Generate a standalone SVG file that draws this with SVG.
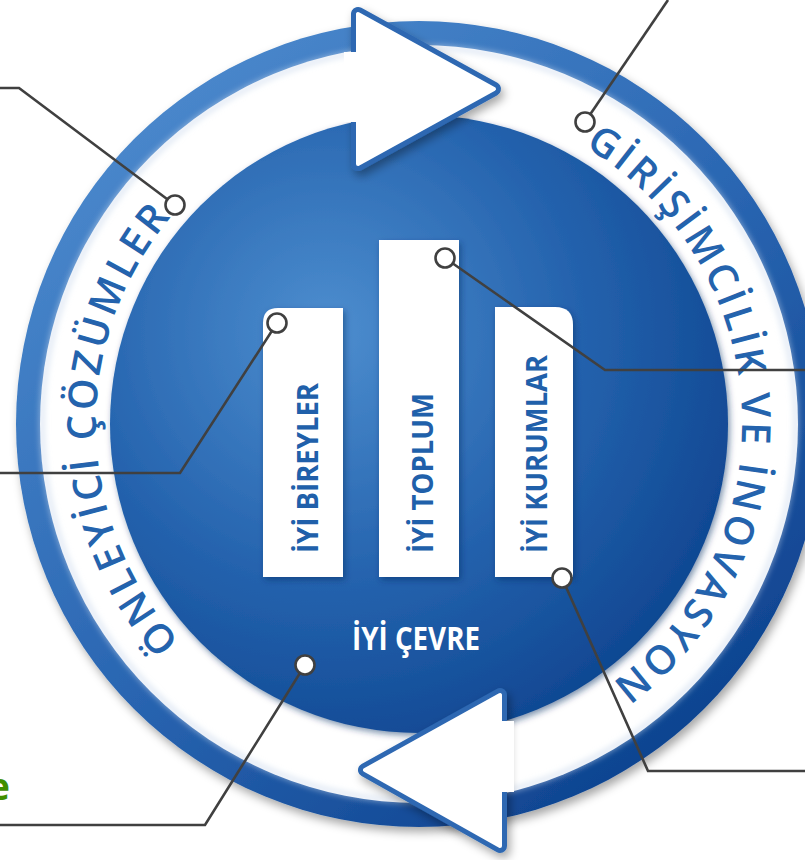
<svg xmlns="http://www.w3.org/2000/svg" width="805" height="860" viewBox="0 0 805 860">
<defs>
<linearGradient id="gOuter" x1="0.15" y1="0.1" x2="0.85" y2="0.95">
<stop offset="0" stop-color="#4a88cc"/>
<stop offset="0.5" stop-color="#2a66b2"/>
<stop offset="1" stop-color="#0b3f8c"/>
</linearGradient>
<radialGradient id="gInner" cx="0.35" cy="0.35" r="0.75">
<stop offset="0" stop-color="#4d8ecf"/>
<stop offset="0.55" stop-color="#2462ad"/>
<stop offset="1" stop-color="#0d448f"/>
</radialGradient>
<filter id="shadow" x="-10%" y="-10%" width="130%" height="130%">
<feDropShadow dx="3" dy="5" stdDeviation="5" flood-color="#000" flood-opacity="0.35"/>
</filter>
<filter id="soft" x="-20%" y="-20%" width="140%" height="140%">
<feDropShadow dx="2" dy="3" stdDeviation="3" flood-color="#05285e" flood-opacity="0.5"/>
</filter>
<filter id="glow" x="-10%" y="-10%" width="120%" height="120%">
<feGaussianBlur stdDeviation="3"/>
</filter>
<path id="ring" d="M 419 747 A 323 323 0 1 1 419 101 A 323 323 0 1 1 419 747"/>
<style>
.ringtxt{font-family:"Open Sans","Liberation Sans",sans-serif;font-weight:600;font-size:40px;letter-spacing:3.5px;fill:#2463ad;}
.pillar{fill:#ffffff;filter:url(#soft);}
.ptxt{font-family:"Open Sans","Liberation Sans",sans-serif;font-weight:700;font-size:29px;fill:#2060aa;}
.ctr{font-family:"Open Sans","Liberation Sans",sans-serif;font-weight:700;font-size:32px;fill:#ffffff;}
.conn{fill:none;stroke:#404040;stroke-width:2.6;}
.dot{fill:#ffffff;stroke:#404040;stroke-width:2.6;}
.arrowOut{fill:#2d68b2;stroke:#2d68b2;stroke-width:14;stroke-linejoin:round;}
.arrowIn{fill:#ffffff;stroke:#ffffff;stroke-width:4;stroke-linejoin:round;}
</style>
</defs>
<rect width="805" height="860" fill="#ffffff"/>

<g id="wheel">
<circle cx="419" cy="424" r="403" fill="url(#gOuter)" filter="url(#shadow)"/>
<circle cx="419" cy="424" r="379" fill="#ffffff"/>
<circle cx="419" cy="424" r="377" fill="none" stroke="#c9d8ec" stroke-width="3" filter="url(#glow)"/>
<circle cx="419" cy="424" r="309" fill="url(#gInner)" filter="url(#soft)"/>
</g>

<g id="arrow-top">
<g filter="url(#shadow)">
<polygon class="arrowOut" points="358,14 358,164 494,89"/>
<polygon class="arrowIn" points="358,14 358,164 494,89"/>
</g>
<rect x="344" y="52" width="18" height="70" fill="#ffffff"/>
</g>
<g id="arrow-bottom">
<g filter="url(#shadow)">
<polygon class="arrowOut" points="500,695 500,846 365,770"/>
<polygon class="arrowIn" points="500,695 500,846 365,770"/>
</g>
<rect x="496" y="721" width="18" height="71" fill="#ffffff"/>
</g>

<g id="ring-left">
<text class="ringtxt"><textPath href="#ring" startOffset="502" text-anchor="middle">ÖNLEYİCİ ÇÖZÜMLER</textPath></text>
</g>
<g id="ring-right">
<text class="ringtxt"><textPath href="#ring" startOffset="1507" text-anchor="middle">GİRİŞİMCİLİK VE İNOVASYON</textPath></text>
</g>

<g id="pillar-bireyler">
<path class="pillar" d="M 278 308 H 343 V 577 H 263 V 323 Q 263 308 278 308 Z"/>
<text class="ptxt" transform="translate(318,553) rotate(-90)" textLength="170" lengthAdjust="spacingAndGlyphs">İYİ BİREYLER</text>
</g>
<g id="pillar-toplum">
<rect class="pillar" x="379" y="240" width="80" height="337"/>
<text class="ptxt" transform="translate(433,553) rotate(-90)" textLength="160" lengthAdjust="spacingAndGlyphs">İYİ TOPLUM</text>
</g>
<g id="pillar-kurumlar">
<path class="pillar" d="M 495 307 H 555 Q 573 307 573 325 V 577 H 495 Z"/>
<text class="ptxt" transform="translate(547,553) rotate(-90)" textLength="198" lengthAdjust="spacingAndGlyphs">İYİ KURUMLAR</text>
</g>
<g id="cevre">
<text class="ctr" x="416" y="650" text-anchor="middle" textLength="128" lengthAdjust="spacingAndGlyphs">İYİ ÇEVRE</text>
</g>

<g id="side-text">
<text x="10" y="800" text-anchor="end" font-family="Open Sans, Liberation Sans, sans-serif" font-weight="700" font-size="38" fill="#3f8f00">e</text>
</g>

<g id="connectors">
<polyline class="conn" points="0,88 19,88 175,205"/>
<polyline class="conn" points="0,473 180,473 277,323"/>
<polyline class="conn" points="585,122 668,0"/>
<polyline class="conn" points="445,258 605,370 805,370"/>
<polyline class="conn" points="562,578 648,771 805,771"/>
<polyline class="conn" points="305,665 205,825 0,825"/>
<circle class="dot" cx="175" cy="205" r="9.5"/>
<circle class="dot" cx="277" cy="323" r="9.5"/>
<circle class="dot" cx="585" cy="122" r="9.5"/>
<circle class="dot" cx="445" cy="258" r="9.5"/>
<circle class="dot" cx="562" cy="578" r="9.5"/>
<circle class="dot" cx="305" cy="665" r="9.5"/>
</g>
</svg>
